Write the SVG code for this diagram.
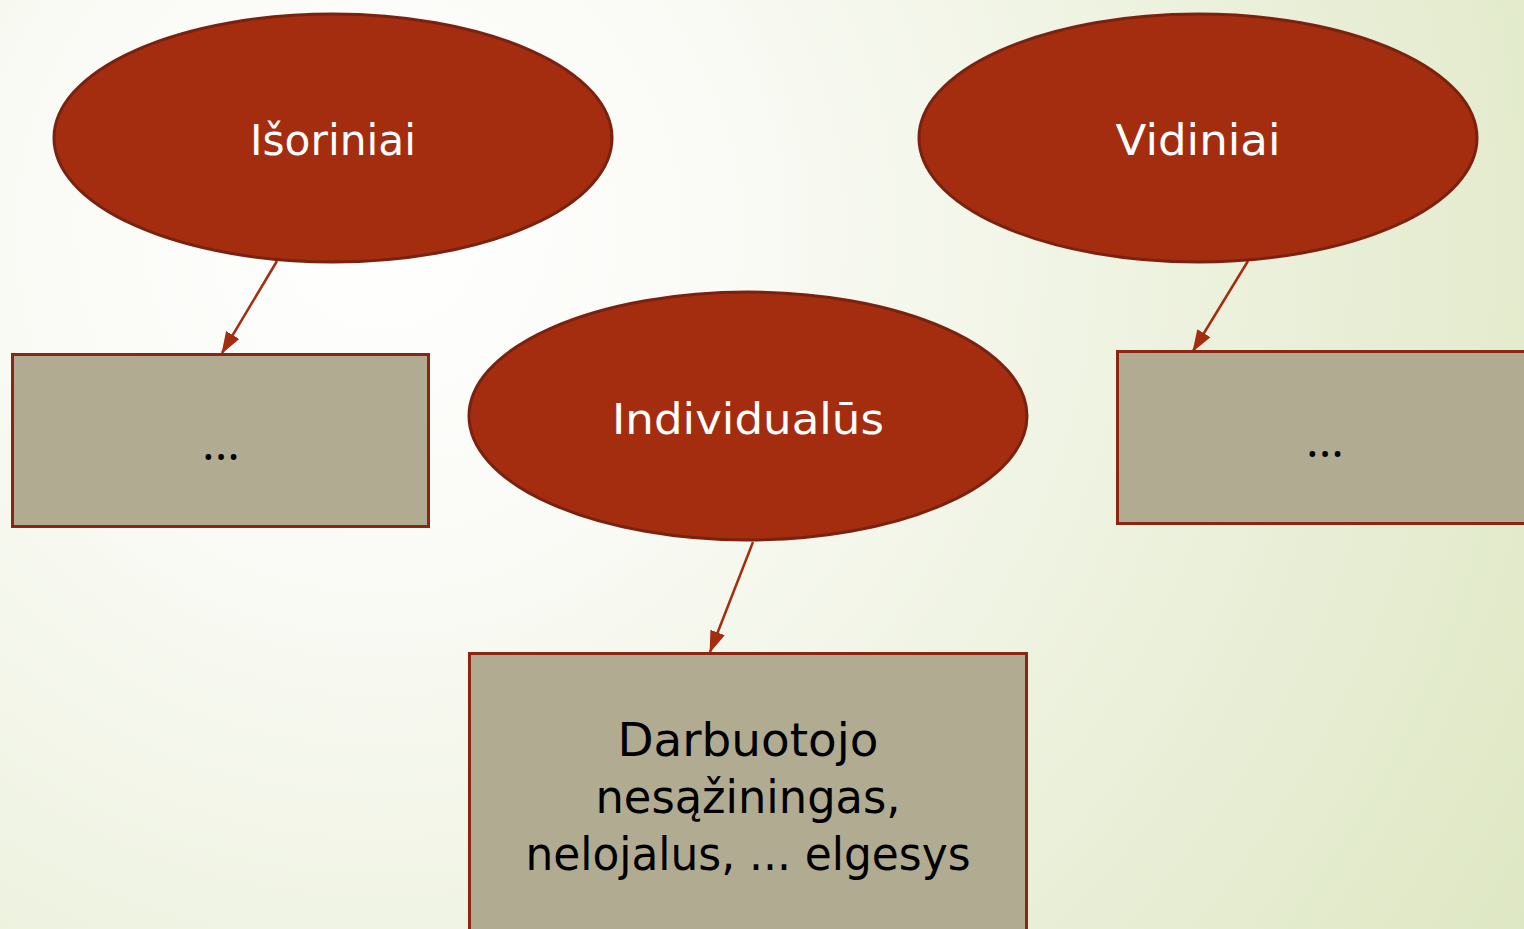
<svg xmlns="http://www.w3.org/2000/svg" width="1524" height="929" viewBox="0 0 1524 929">
<defs>
<radialGradient id="bg" gradientUnits="userSpaceOnUse" cx="380" cy="230" r="1350">
<stop offset="0" stop-color="#FFFFFF"/>
<stop offset="0.25" stop-color="#FAFBF6"/>
<stop offset="1" stop-color="#DEE7C3"/>
</radialGradient>
<marker id="arr" markerUnits="userSpaceOnUse" markerWidth="22" markerHeight="16" refX="19" refY="7" orient="auto" viewBox="0 0 20 14">
<path d="M0,0 L20,7 L0,14 Z" fill="#A52D0F"/>
</marker>
<style>
.ell{fill:#A52D0F;stroke:#7A2110;stroke-width:3}
.box{fill:#B1AB91;stroke:#8A2611;stroke-width:3}
.lt{font-family:"DejaVu Sans","Liberation Sans",sans-serif;fill:#FFFFFF;font-size:43px;text-anchor:middle}
.bt{font-family:"DejaVu Sans","Liberation Sans",sans-serif;fill:#000000;font-size:47px;text-anchor:middle}
.dt{font-family:"Open Sans","DejaVu Sans",sans-serif;fill:#000000;font-size:48px;text-anchor:middle}
.con{stroke:#A52D0F;stroke-width:2.5;fill:none}
</style>
</defs>
<rect x="0" y="0" width="1524" height="929" fill="url(#bg)"/>
<g id="connectors">
<line class="con" x1="277" y1="261" x2="222" y2="353" marker-end="url(#arr)"/>
<line class="con" x1="1248" y1="261" x2="1193" y2="351" marker-end="url(#arr)"/>
<line class="con" x1="753" y1="542" x2="710" y2="652" marker-end="url(#arr)"/>
</g>
<g id="node-isoriniai">
<ellipse class="ell" cx="333" cy="138" rx="279" ry="124"/>
<text class="lt" x="333" y="155" textLength="166" lengthAdjust="spacingAndGlyphs">Išoriniai</text>
</g>
<g id="node-vidiniai">
<ellipse class="ell" cx="1198" cy="138" rx="279" ry="124"/>
<text class="lt" x="1198" y="155" textLength="165" lengthAdjust="spacingAndGlyphs">Vidiniai</text>
</g>
<g id="node-individualus">
<ellipse class="ell" cx="748" cy="416" rx="279" ry="124"/>
<text class="lt" x="748" y="434" textLength="272" lengthAdjust="spacingAndGlyphs">Individualūs</text>
</g>
<g id="box-isoriniai">
<rect class="box" x="12.5" y="354.5" width="416" height="172"/>
<text class="dt" x="221" y="460">...</text>
</g>
<g id="box-vidiniai">
<rect class="box" x="1117.5" y="351.5" width="416" height="172"/>
<text class="dt" x="1325" y="457">...</text>
</g>
<g id="box-individualus">
<rect class="box" x="469.5" y="653.5" width="557" height="300"/>
<text class="bt" x="748" y="756" textLength="261" lengthAdjust="spacingAndGlyphs">Darbuotojo</text>
<text class="bt" x="748" y="813" textLength="305" lengthAdjust="spacingAndGlyphs">nesąžiningas,</text>
<text class="bt" x="748" y="870" textLength="445" lengthAdjust="spacingAndGlyphs">nelojalus, ... elgesys</text>
</g>
</svg>
